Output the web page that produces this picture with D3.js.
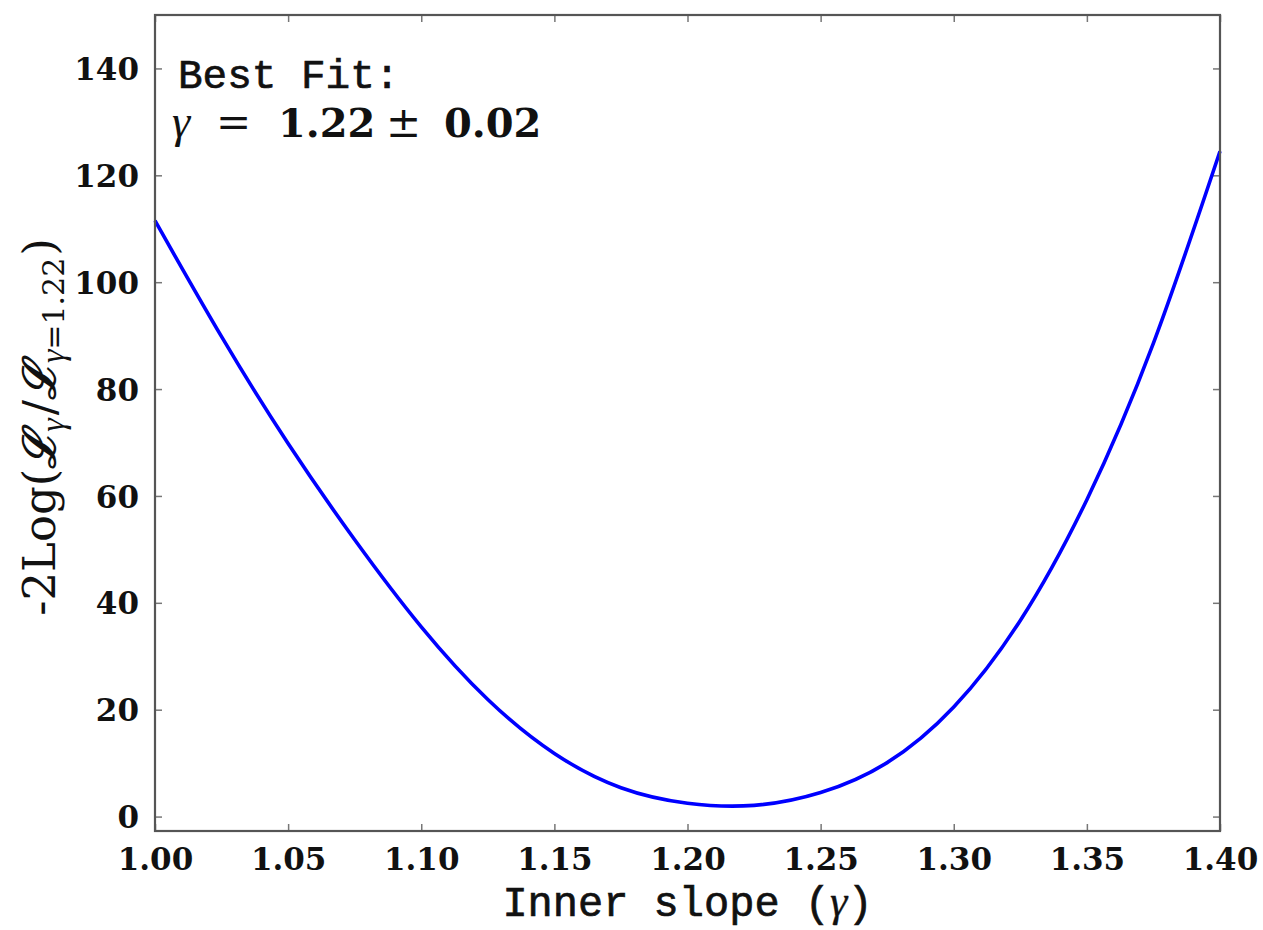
<!DOCTYPE html>
<html>
<head>
<meta charset="utf-8">
<script src="https://cdn.jsdelivr.net/npm/d3@7"></script>
<style>
  html, body { margin: 0; padding: 0; background: #fff; }
  svg { display: block; }
</style>
</head>
<body>
<svg id="chart" width="1263" height="930"></svg>
<script>
// Data
const gammaVals = [1.000, 1.025, 1.050, 1.075, 1.100, 1.125, 1.150, 1.175, 1.200, 1.225, 1.250, 1.275, 1.300, 1.325, 1.350, 1.375, 1.400];
const chi2Vals  = [111.5, 89.8, 69.8, 51.8, 35.5, 21.9, 11.8, 5.4, 2.5, 2.1, 4.5, 10.1, 20.5, 36.7, 59.3, 88.6, 124.5];
const xTicks = [1.00, 1.05, 1.10, 1.15, 1.20, 1.25, 1.30, 1.35, 1.40];
const yTicks = [0, 20, 40, 60, 80, 100, 120, 140];
const xDomain = [1.00, 1.40];
const yDomain = [-2.7, 150];

(function () {
const svg = d3.select("#chart");
const mL = 155, mR = 1220, mT = 15, mB = 831;

const x = d3.scaleLinear().domain(xDomain).range([mL, mR]);
const y = d3.scaleLinear().domain(yDomain).range([mB, mT]);

const tickFont = "'DejaVu Serif', serif";
const tickColor = "#777";

const gx = svg.append("g").attr("transform", `translate(0,${mB})`)
  .call(d3.axisBottom(x).tickValues(xTicks).tickFormat(d3.format(".2f")).tickSizeInner(-7).tickSizeOuter(0).tickPadding(17));
const gxt = svg.append("g").attr("transform", `translate(0,${mT})`)
  .call(d3.axisTop(x).tickValues(xTicks).tickFormat("").tickSizeInner(-7).tickSizeOuter(0));
const gy = svg.append("g").attr("transform", `translate(${mL},0)`)
  .call(d3.axisLeft(y).tickValues(yTicks).tickFormat(d3.format("d")).tickSizeInner(-7).tickSizeOuter(0).tickPadding(16));
const gyr = svg.append("g").attr("transform", `translate(${mR},0)`)
  .call(d3.axisRight(y).tickValues(yTicks).tickFormat("").tickSizeInner(-7).tickSizeOuter(0));

[gx, gxt, gy, gyr].forEach(g => {
  g.select(".domain").remove();
  g.selectAll(".tick line").attr("stroke", tickColor).attr("stroke-width", 1.5);
  g.selectAll(".tick text")
    .attr("font-family", tickFont)
    .attr("font-weight", "bold")
    .attr("font-size", 31)
    .attr("fill", "#111");
});
gx.selectAll(".tick text").attr("dy", "0.71em");
gy.selectAll(".tick text").attr("dy", "0.36em");

const line = d3.line()
  .x((d, i) => x(gammaVals[i]))
  .y(d => y(d))
  .curve(d3.curveNatural);

svg.append("path")
  .datum(chi2Vals)
  .attr("fill", "none")
  .attr("stroke", "#0000ff")
  .attr("stroke-width", 3.6)
  .attr("d", line);

svg.append("rect")
  .attr("x", mL).attr("y", mT)
  .attr("width", mR - mL).attr("height", mB - mT)
  .attr("fill", "none")
  .attr("stroke", "#555")
  .attr("stroke-width", 2.2);

const mono = "'Liberation Mono', 'Courier New', monospace";
const greek = "'Liberation Serif', 'DejaVu Serif', serif";
svg.append("text")
  .attr("x", 178).attr("y", 88)
  .attr("font-family", mono)
  .attr("font-size", 41)
  .attr("fill", "#111")
  .attr("stroke", "#111").attr("stroke-width", 0.7)
  .text("Best Fit:");

const mathFont = "'DejaVu Serif', serif";
const bf = svg.append("text")
  .attr("y", 137)
  .attr("font-family", mathFont)
  .attr("font-size", 40)
  .attr("fill", "#111");
bf.append("tspan").attr("x", 172).attr("font-family", greek).attr("font-style", "italic").attr("font-size", 46).text("γ");
bf.append("tspan").attr("x", 216).attr("font-size", 42).text("=");
bf.append("tspan").attr("x", 278).attr("font-weight", "bold").text("1.22");
bf.append("tspan").attr("x", 386).attr("font-size", 42).text("±");
bf.append("tspan").attr("x", 444).attr("font-weight", "bold").text("0.02");

const xl = svg.append("text")
  .attr("x", (mL + mR) / 2)
  .attr("y", 916)
  .attr("text-anchor", "middle")
  .attr("font-family", mono)
  .attr("font-size", 42)
  .attr("fill", "#111")
  .attr("stroke", "#111").attr("stroke-width", 0.7);
xl.append("tspan").text("Inner slope (");
xl.append("tspan").attr("font-family", greek).attr("font-style", "italic").attr("font-size", 44).attr("stroke-width", 0.3).text("γ");
xl.append("tspan").text(")");

const yl = svg.append("text")
  .attr("transform", "translate(55,427) rotate(-90)")
  .attr("text-anchor", "middle")
  .attr("font-family", mathFont)
  .attr("font-size", 45)
  .attr("fill", "#111");
yl.append("tspan").text("-2Log(");
yl.append("tspan").attr("font-style", "italic").attr("font-weight", "bold").text("ℒ");
yl.append("tspan").attr("font-family", greek).attr("font-style", "italic").attr("font-size", 34).attr("dy", 9).text("γ");
yl.append("tspan").attr("dy", -9).attr("dx", 3).text("/");
yl.append("tspan").attr("font-style", "italic").attr("font-weight", "bold").text("ℒ");
yl.append("tspan").attr("font-family", greek).attr("font-style", "italic").attr("font-size", 34).attr("dy", 9).text("γ");
yl.append("tspan").attr("font-size", 30).text("=1.22");
yl.append("tspan").attr("dy", -9).attr("dx", 2).text(")");
})();
</script>
</body>
</html>
